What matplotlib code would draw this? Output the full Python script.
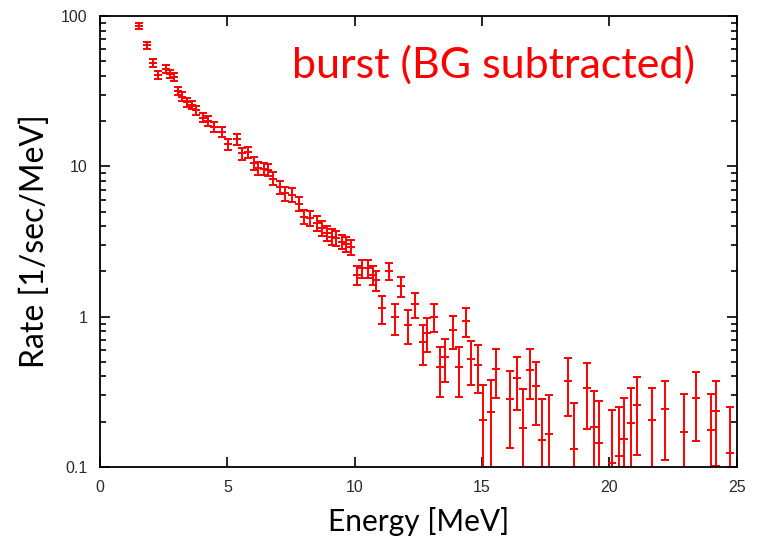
import numpy as np
import matplotlib
matplotlib.use("Agg")
import matplotlib.pyplot as plt
from matplotlib.ticker import LogLocator, FixedLocator, NullLocator

# energy bins [MeV], rate [1/sec/MeV] and its error
energy = [1.53, 1.83, 2.07, 2.29, 2.58, 2.75, 2.92, 3.05, 3.23, 3.40,
          3.60, 3.75, 4.06, 4.25, 4.49, 4.80, 5.04, 5.36, 5.56, 5.79,
          6.05, 6.21, 6.45, 6.60, 6.80, 7.06, 7.26, 7.52, 7.81, 8.02,
          8.24, 8.50, 8.73, 8.90, 9.09, 9.28, 9.48, 9.65, 9.84, 10.07,
          10.27, 10.53, 10.70, 10.83, 11.05, 11.35, 11.58, 11.80, 12.10, 12.36,
          12.66, 12.82, 13.11, 13.34, 13.54, 13.87, 14.10, 14.36, 14.58, 14.85,
          15.04, 15.34, 15.56, 16.11, 16.35, 16.61, 16.88, 17.11, 17.36, 17.62,
          18.37, 18.61, 19.12, 19.38, 19.60, 20.08, 20.38, 20.57, 20.86, 21.10,
          21.67, 22.18, 22.94, 23.40, 24.00, 24.18, 24.75]
rate = [86, 64, 49, 40.5, 44.5, 41, 39.5, 31.8, 29.1, 26.7,
        25.6, 23.7, 21.1, 20.0, 18.2, 17.0, 14.0, 15.1, 12.2, 12.4,
        10.5, 9.7, 9.6, 9.5, 8.3, 7.26, 6.62, 6.45, 5.62, 4.63,
        4.52, 4.18, 3.87, 3.59, 3.41, 3.33, 3.16, 3.05, 2.90, 1.89,
        2.10, 2.10, 1.89, 1.75, 1.14, 2.02, 0.99, 1.60, 0.88, 1.21,
        0.68, 0.78, 1.00, 0.46, 0.54, 0.81, 0.46, 0.94, 0.52, 0.48,
        0.207, 0.231, 0.447, 0.283, 0.389, 0.181, 0.445, 0.346, 0.151, 0.166,
        0.375, 0.132, 0.334, 0.184, 0.144, 0.107, 0.119, 0.154, 0.197, 0.257,
        0.204, 0.242, 0.172, 0.289, 0.177, 0.236, 0.123]
rate_err = [4, 3.5, 3, 2.5, 2.5, 2.5, 2.5, 2, 1.9, 1.8,
            1.7, 1.6, 1.5, 1.5, 1.4, 1.3, 1.2, 1.2, 1.1, 1.1,
            1.0, 0.95, 0.9, 0.9, 0.8, 0.75, 0.7, 0.68, 0.6, 0.52,
            0.5, 0.47, 0.44, 0.42, 0.4, 0.38, 0.36, 0.34, 0.33, 0.27,
            0.28, 0.28, 0.27, 0.26, 0.24, 0.27, 0.23, 0.25, 0.22, 0.23,
            0.2, 0.2, 0.21, 0.17, 0.17, 0.2, 0.17, 0.21, 0.17, 0.17,
            0.144, 0.15, 0.16, 0.15, 0.15, 0.148, 0.16, 0.155, 0.132, 0.135,
            0.155, 0.136, 0.156, 0.137, 0.132, 0.132, 0.132, 0.135, 0.137, 0.137,
            0.13, 0.13, 0.133, 0.14, 0.13, 0.135, 0.128]

xticks = [0, 5, 10, 15, 20, 25]
yticks = [0.1, 1, 10, 100]
ytick_labels = ["0.1", "1", "10", "100"]

fig = plt.figure(figsize=(7.59, 5.5), dpi=100)
ax = fig.add_axes([0.1318, 0.1509, 0.839, 0.82])

ax.errorbar(energy, rate, yerr=rate_err, fmt="_", color="#ff0000",
            ms=6, mew=1.4, elinewidth=1.4, capsize=3, capthick=1.4)

ax.set_yscale("log")
ax.set_xlim(0, 25)
ax.set_ylim(0.1, 100)
ax.xaxis.set_major_locator(FixedLocator(xticks))
ax.xaxis.set_minor_locator(NullLocator())
ax.yaxis.set_major_locator(FixedLocator(yticks))
ax.yaxis.set_minor_locator(LogLocator(base=10, subs=np.arange(2, 10)))
ax.set_yticklabels(ytick_labels)
ax.tick_params(which="both", direction="in", top=True, right=True,
               labelsize=11.5, labelcolor="#2a2a33", width=1.2)
ax.tick_params(which="major", length=7, pad=9)
ax.tick_params(which="minor", length=4)
for lab in ax.get_xticklabels() + ax.get_yticklabels():
    lab.set_family("Liberation Sans")
for s in ax.spines.values():
    s.set_linewidth(1.3)

ax.set_xlabel("Energy [MeV]", fontsize=21.5, family="Lato")
ax.set_ylabel("Rate [1/sec/MeV]", fontsize=23, family="Lato")
ax.xaxis.set_label_coords(0.5, -0.088)
ax.yaxis.set_label_coords(-0.078, 0.5)
ax.text(0.934, 0.891, "burst (BG subtracted)", transform=ax.transAxes,
        ha="right", va="center", color="#ff0000", fontsize=31, family="Lato")

fig.savefig("out.png", dpi=100)
